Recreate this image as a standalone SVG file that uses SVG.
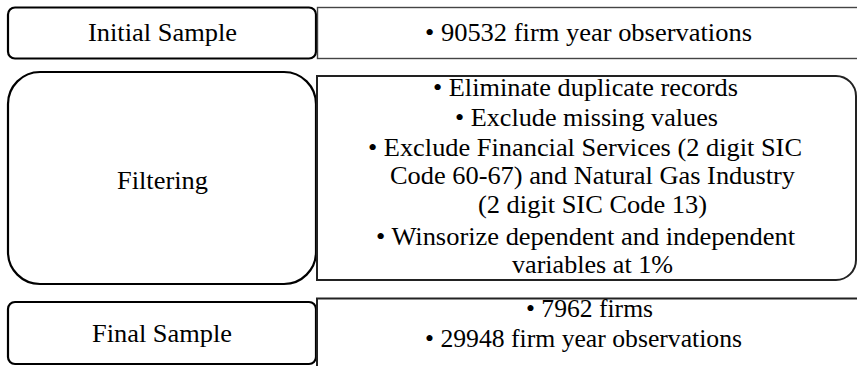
<svg xmlns="http://www.w3.org/2000/svg" width="857" height="366" viewBox="0 0 857 366">
<style>
.lbox{fill:#fff;stroke:#000;stroke-width:2.2}
.rbox{fill:#fff;stroke:#222;stroke-width:2}
.rthin{fill:#fff;stroke:#444;stroke-width:1.4}
</style>
<g id="connectors"></g>
<g font-family="Liberation Serif" font-size="26" fill="#000">
<g id="initial-sample">
<rect class="lbox" x="8" y="7.5" width="308" height="51" rx="7"/>
<text x="88" y="41" textLength="149" lengthAdjust="spacingAndGlyphs">Initial Sample</text>
</g>
<g id="initial-detail">
<rect class="rthin" x="317.5" y="7.5" width="560" height="51"/>
<text x="425" y="41" textLength="327" lengthAdjust="spacingAndGlyphs">• 90532 firm year observations</text>
</g>
<g id="filtering">
<rect class="lbox" x="8" y="72" width="308" height="212" rx="32"/>
<text x="117" y="189" textLength="91" lengthAdjust="spacingAndGlyphs">Filtering</text>
</g>
<g id="filtering-detail">
<path class="rbox" d="M317,76 H836 A20,20 0 0 1 856,96 V260 A20,20 0 0 1 836,280 H317 Z"/>
<text x="433" y="96" textLength="305" lengthAdjust="spacingAndGlyphs">• Eliminate duplicate records</text>
<text x="455" y="126" textLength="263" lengthAdjust="spacingAndGlyphs">• Exclude missing values</text>
<text x="368" y="156" textLength="434" lengthAdjust="spacingAndGlyphs">• Exclude Financial Services (2 digit SIC</text>
<text x="390" y="184" textLength="405" lengthAdjust="spacingAndGlyphs">Code 60-67) and Natural Gas Industry</text>
<text x="478" y="213" textLength="229" lengthAdjust="spacingAndGlyphs">(2 digit SIC Code 13)</text>
<text x="376" y="245" textLength="419" lengthAdjust="spacingAndGlyphs">• Winsorize dependent and independent</text>
<text x="512" y="273" textLength="161" lengthAdjust="spacingAndGlyphs">variables at 1%</text>
</g>
<g id="final-sample">
<rect class="lbox" x="8" y="302" width="308" height="62" rx="7"/>
<text x="92" y="342" textLength="140" lengthAdjust="spacingAndGlyphs">Final Sample</text>
</g>
<g id="final-detail">
<rect class="rbox" x="317" y="298.5" width="560" height="80"/>
<text x="526" y="317" textLength="127" lengthAdjust="spacingAndGlyphs">• 7962 firms</text>
<text x="425" y="347" textLength="317" lengthAdjust="spacingAndGlyphs">• 29948 firm year observations</text>
</g>
</g>
</svg>
